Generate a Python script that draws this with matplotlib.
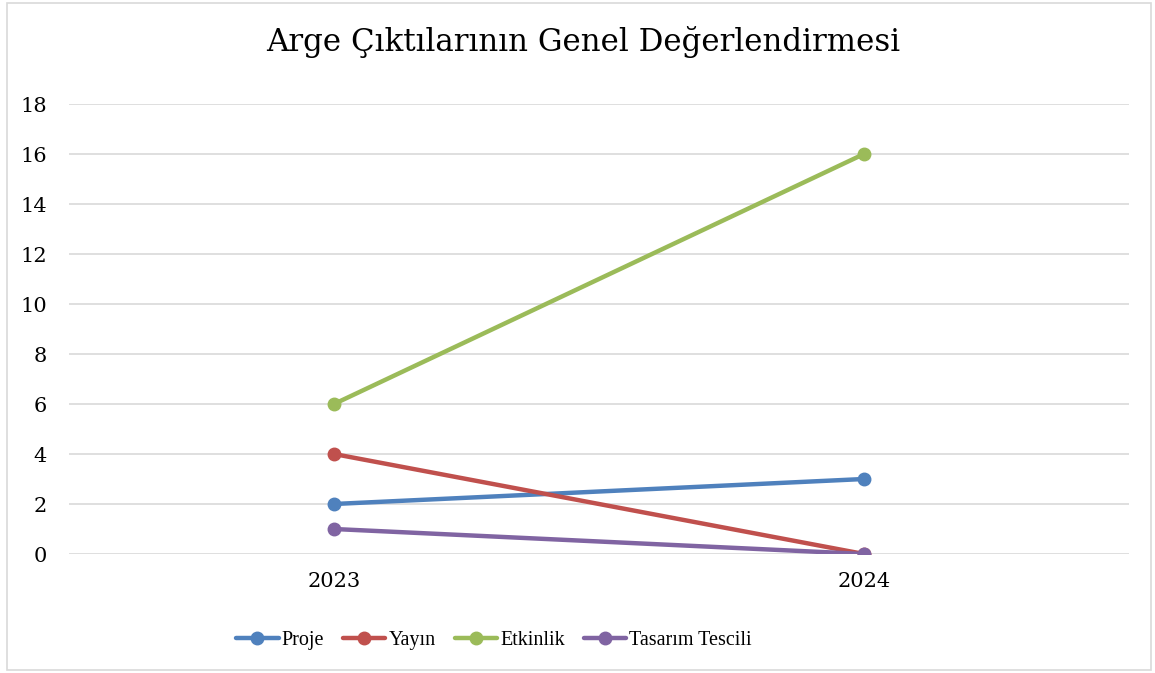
import matplotlib
matplotlib.use("Agg")
import matplotlib.pyplot as plt
from matplotlib.patches import Rectangle

categories = ["2023", "2024"]
series_names = ["Proje", "Yayın", "Etkinlik", "Tasarım Tescili"]
proje = [2, 3]
yayin = [4, 0]
etkinlik = [6, 16]
tasarim = [1, 0]
yticks = [0, 2, 4, 6, 8, 10, 12, 14, 16, 18]
title = "Arge Çıktılarının Genel Değerlendirmesi"

colors = ["#4F81BD", "#C0504D", "#9BBB59", "#8064A2"]
values = [proje, yayin, etkinlik, tasarim]

plt.rcParams['font.family'] = ['DejaVu Serif']

fig = plt.figure(figsize=(11.55, 6.73), dpi=100)
ax = fig.add_axes([69/1155, 1-554/673, (1129-69)/1155, (554-104)/673])

x = list(range(len(categories)))
for name, vals, c in zip(series_names, values, colors):
    ax.plot(x, vals, color=c, lw=3.2, marker='o', markersize=9, label=name,
            solid_capstyle='round')

ax.set_xlim(-0.5, len(categories) - 0.5)
ax.set_ylim(0, 18)
ax.set_yticks(yticks)
ax.set_xticks(x)
ax.set_xticklabels(categories)
ax.grid(axis='y', color='#D9D9D9', lw=1.2)
ax.set_axisbelow(True)
for s in ax.spines.values():
    s.set_visible(False)
ax.tick_params(axis='both', length=0, labelsize=15)
ax.tick_params(axis='y', pad=16)
ax.tick_params(axis='x', pad=13)

fig.text(583/1155, 1-42/673, title, ha='center', va='center', fontsize=22.2)

leg = fig.legend(loc='center', bbox_to_anchor=(494/1155, 1-640/673), ncol=4,
                 frameon=False, prop={'family': 'Liberation Serif', 'size': 14.5},
                 handlelength=2.1, columnspacing=0.95, handletextpad=0.15)

fig.patches.append(Rectangle((7/1155, 3/673), (1151-7)/1155, (670-3)/673,
                             transform=fig.transFigure, fill=False,
                             edgecolor='#D9D9D9', lw=1.2))

fig.savefig("out.png", dpi=100)
